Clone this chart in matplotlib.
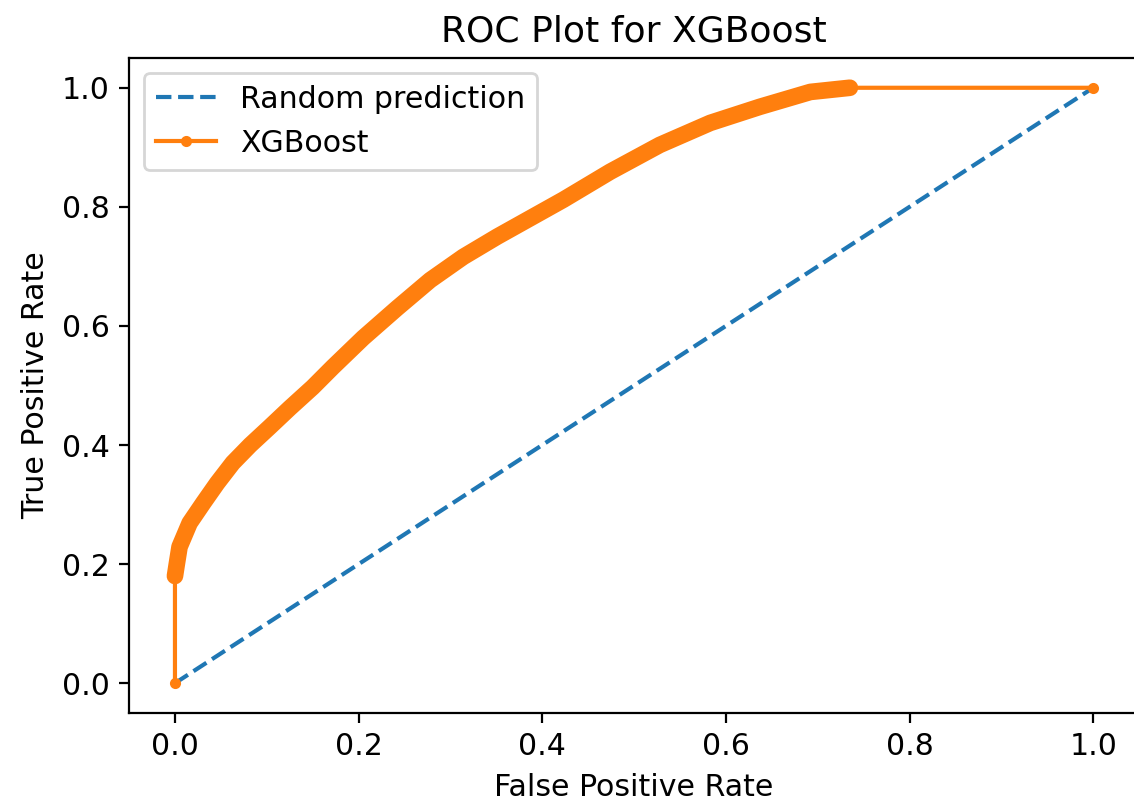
import matplotlib

matplotlib.use("Agg")
import matplotlib.pyplot as plt

# ROC points for the XGBoost classifier (false positive rate, true positive rate)
fpr = [0.0, 0.0, 0.002, 0.005, 0.016, 0.031, 0.046, 0.063, 0.082, 0.103, 0.125,
       0.150, 0.172, 0.205, 0.242, 0.278, 0.314, 0.351, 0.387, 0.423, 0.474,
       0.528, 0.583, 0.637, 0.692, 0.735, 1.0]
tpr = [0.0, 0.18, 0.20, 0.229, 0.269, 0.303, 0.336, 0.370, 0.400, 0.430, 0.462,
       0.497, 0.531, 0.580, 0.630, 0.677, 0.716, 0.750, 0.781, 0.812, 0.859,
       0.904, 0.941, 0.968, 0.993, 1.0, 1.0]

# diagonal reference for a no-skill classifier
random_x = [0.0, 1.0]
random_y = [0.0, 1.0]

plt.rcParams["font.size"] = 10.8

fig = plt.figure(figsize=(5.67, 4.05), dpi=200)
# the frame runs off the right edge of the canvas, so only three spines show
ax = fig.add_axes([0.1138, 0.1198, 0.8907, 0.8086])
ax.spines["right"].set_visible(False)

ax.plot(random_x, random_y, linestyle="--", color="C0", label="Random prediction")
# thresholds are packed so tightly in the middle of the curve that their markers merge into a band
ax.plot(fpr[1:-1], tpr[1:-1], color="C1", linewidth=6, solid_capstyle="round",
        solid_joinstyle="round")
ax.plot(fpr, tpr, marker=".", color="C1", label="XGBoost")

ax.set_xlim(-0.05, 1.05)
ax.set_ylim(-0.05, 1.05)
ax.set_title("ROC Plot for XGBoost", fontsize=13)
ax.set_xlabel("False Positive Rate")
ax.set_ylabel("True Positive Rate")
ax.legend(loc="upper left")

fig.savefig("out.png", dpi=200)
